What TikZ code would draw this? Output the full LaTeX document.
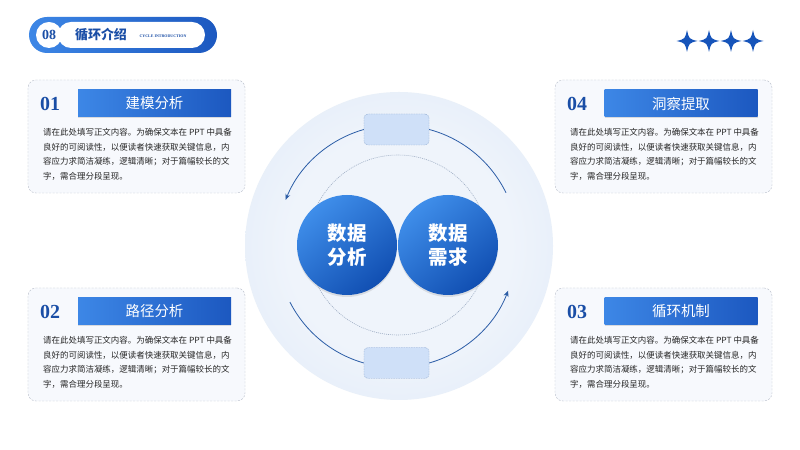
\documentclass[tikz,border=0pt]{standalone}
\usepackage{fontspec}
\setmainfont{Liberation Serif}
\newfontfamily\cjk{Noto Sans CJK SC}
\usetikzlibrary{arrows.meta,shadows,positioning}

\definecolor{deepblue}{HTML}{1A4EA6}
\definecolor{tleft}{HTML}{3D87E6}
\definecolor{tright}{HTML}{1C58C0}
\definecolor{cardline}{HTML}{B6BCC8}
\definecolor{cardfill}{HTML}{F7F9FD}
\definecolor{txtgray}{HTML}{262626}
\definecolor{hubin}{HTML}{EFF4FB}
\definecolor{hubout}{HTML}{D2E1F4}
\definecolor{ringline}{HTML}{9FAEC4}
\definecolor{slotfill}{HTML}{CFE0F8}
\definecolor{slotline}{HTML}{8FA9CF}
\definecolor{arcblue}{HTML}{2C5DA6}
\definecolor{bubtop}{HTML}{3F8EEA}
\definecolor{bubbot}{HTML}{114FB2}
\definecolor{starblue}{HTML}{1654BA}

\pgfdeclareradialshading{hubshade}{\pgfpoint{0bp}{0bp}}{color(0bp)=(hubin); color(18bp)=(hubin); color(50bp)=(hubout)}

\tikzset{
  card/.style={draw=cardline, dash pattern=on 2bp off 1.5bp, rounded corners=8bp,
    fill=cardfill, minimum width=217bp, minimum height=113bp},
  titlebox/.style={left color=tleft, right color=tright, minimum width=153bp,
    minimum height=27bp, text=white, font=\cjk\fontsize{14.5}{16}\selectfont,
    drop shadow={shadow xshift=0bp, shadow yshift=-1.5bp, opacity=0.25}},
  numtext/.style={text=deepblue, font=\bfseries\fontsize{20}{22}\selectfont},
  bodytext/.style={anchor=north west, inner sep=0pt, align=left, text=txtgray,
    font=\cjk\fontsize{8.5}{14.8}\selectfont},
  bubble/.style={circle, minimum size=100bp, inner sep=0pt, top color=bubtop,
    bottom color=bubbot, shading angle=40, text=white, align=center,
    font=\cjk\bfseries\fontsize{19.5}{24}\selectfont,
    drop shadow={shadow xshift=0bp, shadow yshift=-2bp, opacity=0.2}},
  slot/.style={draw=slotline, dash pattern=on 1.5bp off 1bp, fill=slotfill,
    rounded corners=4bp, minimum width=65bp, minimum height=31bp},
  cyclearc/.style={draw=arcblue, line width=0.8bp}
}

\begin{document}
\begin{tikzpicture}[x=1bp,y=1bp]
\useasboundingbox[fill=white] (0,0) rectangle (800,450);

% header
\node[left color=tleft, right color=tright, rounded corners=18bp, minimum width=188bp,
  minimum height=36bp] (hdr) at (123,415) {};
\fill[white] (49,415) circle (13);
\fill[white, rounded corners=13bp] (58,402) rectangle (205,428);
\node[text=deepblue, font=\bfseries\fontsize{14}{16}\selectfont] (hdrnum) at (49,415) {08};
\node[text=deepblue, font=\cjk\bfseries\fontsize{13}{15}\selectfont] (hdrtitle) at (101,415) {循环介绍};
\node[text=deepblue, font=\bfseries\fontsize{4}{5}\selectfont] (hdrsub) at (163,414) {CYCLE INTRODUCTION};

% stars
\foreach \sx in {687,709,731,753}
  \fill[starblue] (\sx+10.5,409) .. controls (\sx+2,411) .. (\sx,420)
    .. controls (\sx-2,411) .. (\sx-10.5,409) .. controls (\sx-2,407) .. (\sx,398)
    .. controls (\sx+2,407) .. cycle;

% cards
\node[card] (card1) at (136.5,313.5) {};
\node[card] (card4) at (663.5,313.5) {};
\node[card] (card2) at (136.5,105.5) {};
\node[card] (card3) at (663.5,105.5) {};

\node[titlebox] (title1) at (154.5,346.5) {建模分析};
\node[titlebox] (title4) at (681,346.5) {洞察提取};
\node[titlebox] (title2) at (154.5,138.5) {路径分析};
\node[titlebox] (title3) at (681,138.5) {循环机制};

\node[numtext] (num1) at (50,346) {01};
\node[numtext] (num4) at (577,346) {04};
\node[numtext] (num2) at (50,138) {02};
\node[numtext] (num3) at (577,138) {03};

\foreach \tx/\ty/\tn in {43/322/1, 570/322/4, 43/114/2, 570/114/3}
  \node[bodytext] (body\tn) at (\tx,\ty) {请在此处填写正文内容。为确保文本在 PPT 中具备\\
    良好的可阅读性，以便读者快速获取关键信息，内\\
    容应力求简洁凝练，逻辑清晰；对于篇幅较长的文\\
    字，需合理分段呈现。};

% cycle
\node[circle, minimum size=308bp, shading=hubshade] (hub) at (399,204) {};
\node[circle, draw=ringline, dash pattern=on 1bp off 1bp, line width=0.6bp,
  minimum size=180bp] (ring) at (398,205) {};

\node[slot] (slot1) at (396.5,320.5) {};
\node[slot] (slot2) at (396.5,87) {};

\draw[cyclearc, -{Stealth[length=6bp,width=5bp]}] (slot1.west) arc[start angle=106, end angle=158, radius=120];
\draw[cyclearc] (slot1.east) arc[start angle=75, end angle=26, radius=120];
\draw[cyclearc] (slot2.west) arc[start angle=254, end angle=207, radius=120];
\draw[cyclearc, -{Stealth[length=6bp,width=5bp]}] (slot2.east) arc[start angle=286, end angle=339, radius=120];

\node[bubble] (bubL) at (347,205) {数据\\分析};
\node[bubble] (bubR) at (448,205) {数据\\需求};

\end{tikzpicture}
\end{document}
